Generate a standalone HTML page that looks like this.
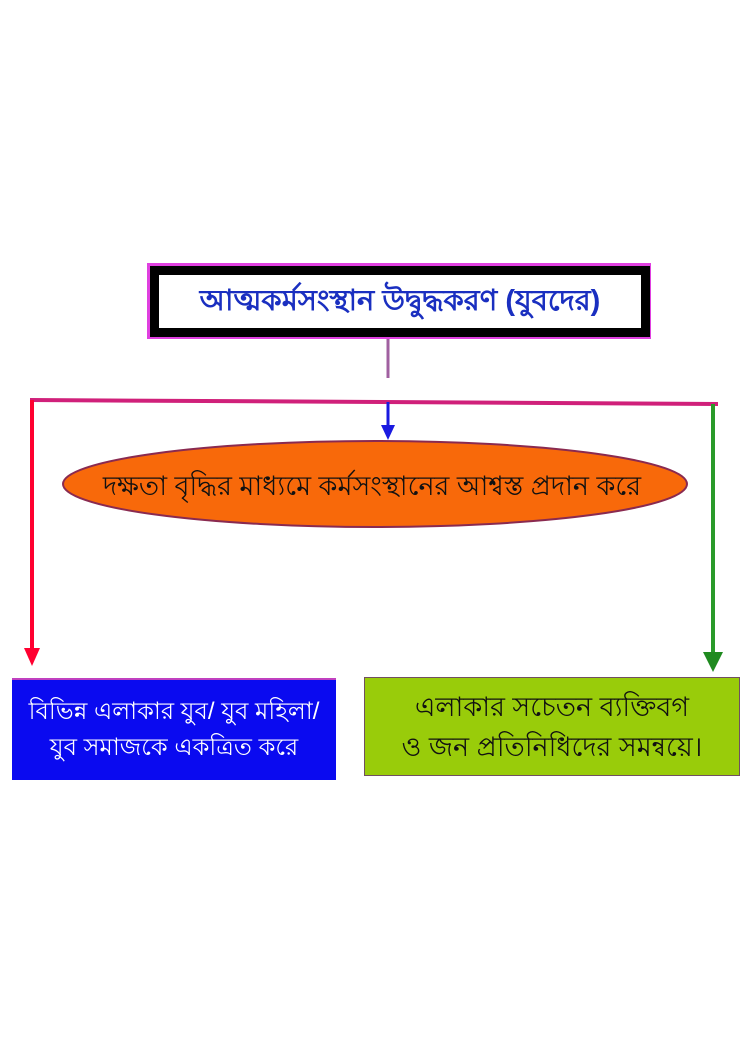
<!DOCTYPE html>
<html><head><meta charset="utf-8"><style>
body{margin:0;width:750px;height:1050px;background:#fff;position:relative;overflow:hidden;font-family:"Liberation Sans","Noto Sans CJK SC",sans-serif}
.a{position:absolute}
</style></head><body>
<div class="a" style="left:147px;top:263px;width:504px;height:76px;background:#e040e0"></div>
<div class="a" style="left:150px;top:266px;width:482px;height:53px;border:9px solid #000;background:#fff;text-align:center;line-height:53px;color:#1a2fc0;font-size:29px;font-weight:bold;white-space:nowrap">আত্মকর্মসংস্থান উদ্বুদ্ধকরণ (যুবদের)</div>
<svg class="a" style="left:0;top:0" width="750" height="1050">
<line x1="388" y1="339" x2="388" y2="378" stroke="#a060a0" stroke-width="3"/>
<line x1="30" y1="400" x2="718" y2="404" stroke="#d0207a" stroke-width="4"/>
<line x1="32" y1="400" x2="32" y2="650" stroke="#ff0030" stroke-width="4"/>
<polygon points="24,648 40,648 32,666" fill="#ff0030"/>
<line x1="713" y1="404" x2="713" y2="655" stroke="#2a9a2a" stroke-width="4"/>
<polygon points="703,652 723,652 713,672" fill="#1f8a1f"/>
<line x1="388" y1="402" x2="388" y2="428" stroke="#1a1ae0" stroke-width="3"/>
<polygon points="381,425 395,425 388,440" fill="#1a1ae0"/>
<ellipse cx="375" cy="484" rx="312" ry="43" fill="#f8690a" stroke="#8a2a50" stroke-width="2"/>
<text x="372" y="495" text-anchor="middle" font-size="27" font-family="Liberation Sans, sans-serif" fill="#111">দক্ষতা  বৃদ্ধির মাধ্যমে কর্মসংস্থানের আশ্বস্ত প্রদান করে</text>
</svg>
<div class="a" style="left:12px;top:678px;width:324px;height:100px;background:#0a0af0;border-top:2px solid #c040c0;color:#fff;font-size:24px;text-align:center;display:flex;align-items:center;justify-content:center;line-height:36px;white-space:nowrap">বিভিন্ন এলাকার যুব/ যুব  মহিলা/<br>যুব সমাজকে একত্রিত করে</div>
<div class="a" style="left:364px;top:677px;width:374px;height:97px;background:#99cc0a;border:1px solid #705060;color:#111;font-size:27px;text-align:center;display:flex;align-items:center;justify-content:center;line-height:40px;white-space:nowrap">এলাকার সচেতন ব্যক্তিবগ<br>ও জন প্রতিনিধিদের সমন্বয়ে।</div>
</body></html>
